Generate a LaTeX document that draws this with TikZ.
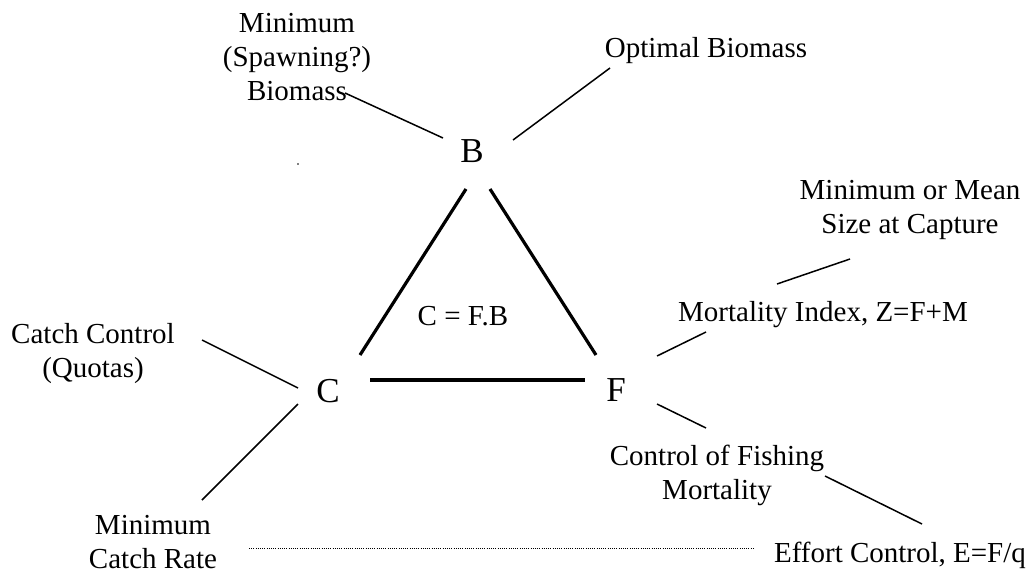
\documentclass[tikz,border=0pt]{standalone}
\usepackage{fontspec}
\setmainfont{Liberation Serif}
\usepackage{tikz}

\begin{document}
\begin{tikzpicture}[x=1pt,y=-1pt]
      \useasboundingbox(0,0) rectangle (1035,573);
      \tikzset{V/.style = {font=\fontsize{35}{40}\selectfont, inner sep=0pt, anchor=base}}
      \tikzset{T/.style = {font=\fontsize{29}{34}\selectfont, inner sep=0pt, align=center}}
      \tikzset{E/.style = {draw, line width=1.5pt}}
      \tikzset{S/.style = {draw, line width=3.2pt}}
      \node[V](b) at (472,162) {B};
      \node[V](c) at (328,402) {C};
      \node[V](f) at (616,401) {F};
      \node[T,anchor=base](eq) at (463,325) {C = F.B};
      \node[T](minb) at (297,57) {Minimum\\(Spawning?)\\Biomass};
      \node[T,anchor=base](optb) at (706,57) {Optimal Biomass};
      \node[T](size) at (910,210) {Minimum or Mean\\Size at Capture};
      \node[T,anchor=base](mort) at (823,321) {Mortality Index, Z=F+M};
      \node[T](catch) at (93,354) {Catch Control\\(Quotas)};
      \node[T](rate) at (153,542) {Minimum\\Catch Rate};
      \node[T](fish) at (717,475) {Control of Fishing\\Mortality};
      \node[T,anchor=base](effort) at (900,562) {Effort Control, E=F/q};
      \node[circle,fill,inner sep=0pt,minimum size=1.8pt](dot) at (298,164) {};
      \coordinate (bl) at (466,189);
      \coordinate (br) at (490,189);
      \coordinate (cu) at (360,355);
      \coordinate (cr) at (370,380);
      \coordinate (fl) at (585,380);
      \coordinate (fu) at (596,355);
      \draw[S](cu) to (bl);
      \draw[S](br) to (fu);
      \draw[S](cr) to (fl);
      \coordinate (minb1) at (345,93);
      \coordinate (minb2) at (443,138);
      \coordinate (optb1) at (513,140);
      \coordinate (optb2) at (610,68);
      \coordinate (catch1) at (202,340);
      \coordinate (catch2) at (298,388);
      \coordinate (rate1) at (298,404);
      \coordinate (rate2) at (202,500);
      \coordinate (mort1) at (657,356);
      \coordinate (mort2) at (706,332);
      \coordinate (size1) at (777,284);
      \coordinate (size2) at (850,259);
      \coordinate (fish1) at (657,404);
      \coordinate (fish2) at (706,428);
      \coordinate (effort1) at (825,476);
      \coordinate (effort2) at (922,524);
      \coordinate (dot1) at (249,548);
      \coordinate (dot2) at (753,548);
      \draw[E](minb1) to (minb2);
      \draw[E](optb1) to (optb2);
      \draw[E](catch1) to (catch2);
      \draw[E](rate1) to (rate2);
      \draw[E](mort1) to (mort2);
      \draw[E](size1) to (size2);
      \draw[E](fish1) to (fish2);
      \draw[E](effort1) to (effort2);
      \draw[line width=1pt,dash pattern=on 1pt off 1.2pt](dot1) to (dot2);
    \end{tikzpicture}
\end{document}
